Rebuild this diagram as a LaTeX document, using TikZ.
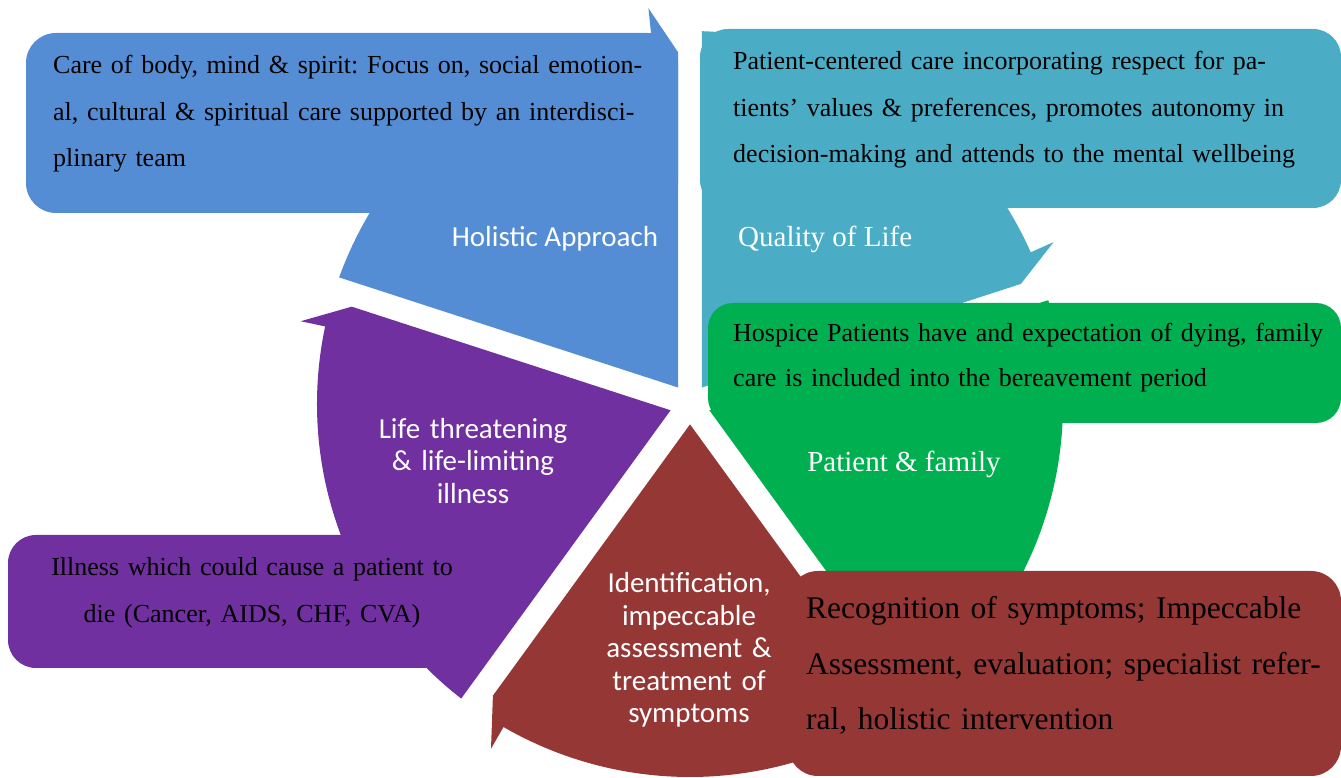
\documentclass[tikz,border=0pt]{standalone}
\usepackage{fontspec}
\setmainfont{Liberation Serif}
\newfontfamily\calib{Carlito}
\frenchspacing
\definecolor{vuyddu}{rgb}{0.329,0.553,0.831}
\definecolor{ubaccw}{rgb}{0.294,0.675,0.776}
\definecolor{qqbqvq}{rgb}{0,0.69,0.314}
\definecolor{zvtxtv}{rgb}{0.584,0.216,0.208}
\definecolor{xqtqaq}{rgb}{0.439,0.188,0.627}

\begin{document}
\begin{tikzpicture}[line cap=round,line join=round,x=1pt,y=1pt,
	boxtext/.style={font=\fontsize{26}{46.5}\selectfont,align=left,inner sep=0pt,anchor=base west},
	segtext/.style={font=\calib\fontsize{29}{32.5}\selectfont,align=center,inner sep=0pt,text=white},
	segserif/.style={font=\fontsize{29}{32.5}\selectfont,inner sep=0pt,text=white,anchor=base}]
	\useasboundingbox (0,0) rectangle (1341,778);
	\clip(0,0) rectangle (1341,778);
		\fill[color=vuyddu,shift={(690,374)}] (126:20.4) -- (160.16:373) arc[start angle=160.16,end angle=96,radius=373] -- (96:398) -- (91.95:352) -- cycle;
		\fill[color=ubaccw,shift={(690,374)}] (54:20.4) -- (88.16:373) arc[start angle=88.16,end angle=24,radius=373] -- (24:398) -- (19.95:352) -- cycle;
		\fill[color=qqbqvq,shift={(690,374)}] (-18:20.4) -- (16.16:373) arc[start angle=16.16,end angle=-48,radius=373] -- (-48:398) -- (-52.05:352) -- cycle;
		\fill[color=zvtxtv,shift={(690,374)}] (-90:20.4) -- (-55.84:373) arc[start angle=-55.84,end angle=-120,radius=373] -- (-120:398) -- (-124.05:352) -- cycle;
		\fill[color=xqtqaq,shift={(690,374)}] (198:20.4) -- (232.16:373) arc[start angle=232.16,end angle=168,radius=373] -- (168:398) -- (163.95:352) -- cycle;
	\fill[color=vuyddu,rounded corners=30] (26,565) rectangle (678,745);
	\fill[color=ubaccw,rounded corners=28] (700,570) rectangle (1341,749);
	\fill[color=qqbqvq,rounded corners=25] (708,355) rectangle (1341,475);
	\fill[color=zvtxtv,rounded corners=30] (788,2) rectangle (1341,207);
	\fill[color=xqtqaq,rounded corners=28] (8,110) rectangle (475,243);
	\node[boxtext,text width=640pt] (body) at (53,704) {Care of body, mind \& spirit: Focus on, social emotion-\\al, cultural \& spiritual care supported by an interdisci-\\plinary team};
	\node[boxtext,text width=640pt] (centered) at (733,708) {Patient-centered care incorporating respect for pa-\\tients' values \& preferences, promotes autonomy in\\decision-making and attends to the mental wellbeing};
	\node[boxtext,font=\fontsize{26}{45}\selectfont,text width=640pt] (hospice) at (733,436) {Hospice Patients have and expectation of dying, family\\care is included into the bereavement period};
	\node[boxtext,font=\fontsize{31.5}{55.5}\selectfont,text width=560pt] (recognition) at (806,159) {Recognition of symptoms; Impeccable\\Assessment, evaluation; specialist refer-\\ral, holistic intervention};
	\node[boxtext,font=\fontsize{26}{47}\selectfont,text width=460pt,align=center,anchor=base] (illness) at (252,202) {Illness which could cause a patient to\\die (Cancer, AIDS, CHF, CVA)};
	\node[segtext,anchor=base] (holistic) at (555,531) {Holistic Approach};
	\node[segserif,anchor=base west] (quality) at (738,531) {Quality of Life};
	\node[segserif] (family) at (904,306) {Patient \& family};
	\node[segtext,text width=230pt] (limiting) at (473,317) {Life threatening\\\& life-limiting\\illness};
	\node[segtext,text width=200pt] (symptoms) at (689,128) {Identification,\\impeccable\\assessment \&\\treatment of\\symptoms};
\end{tikzpicture}
\end{document}
